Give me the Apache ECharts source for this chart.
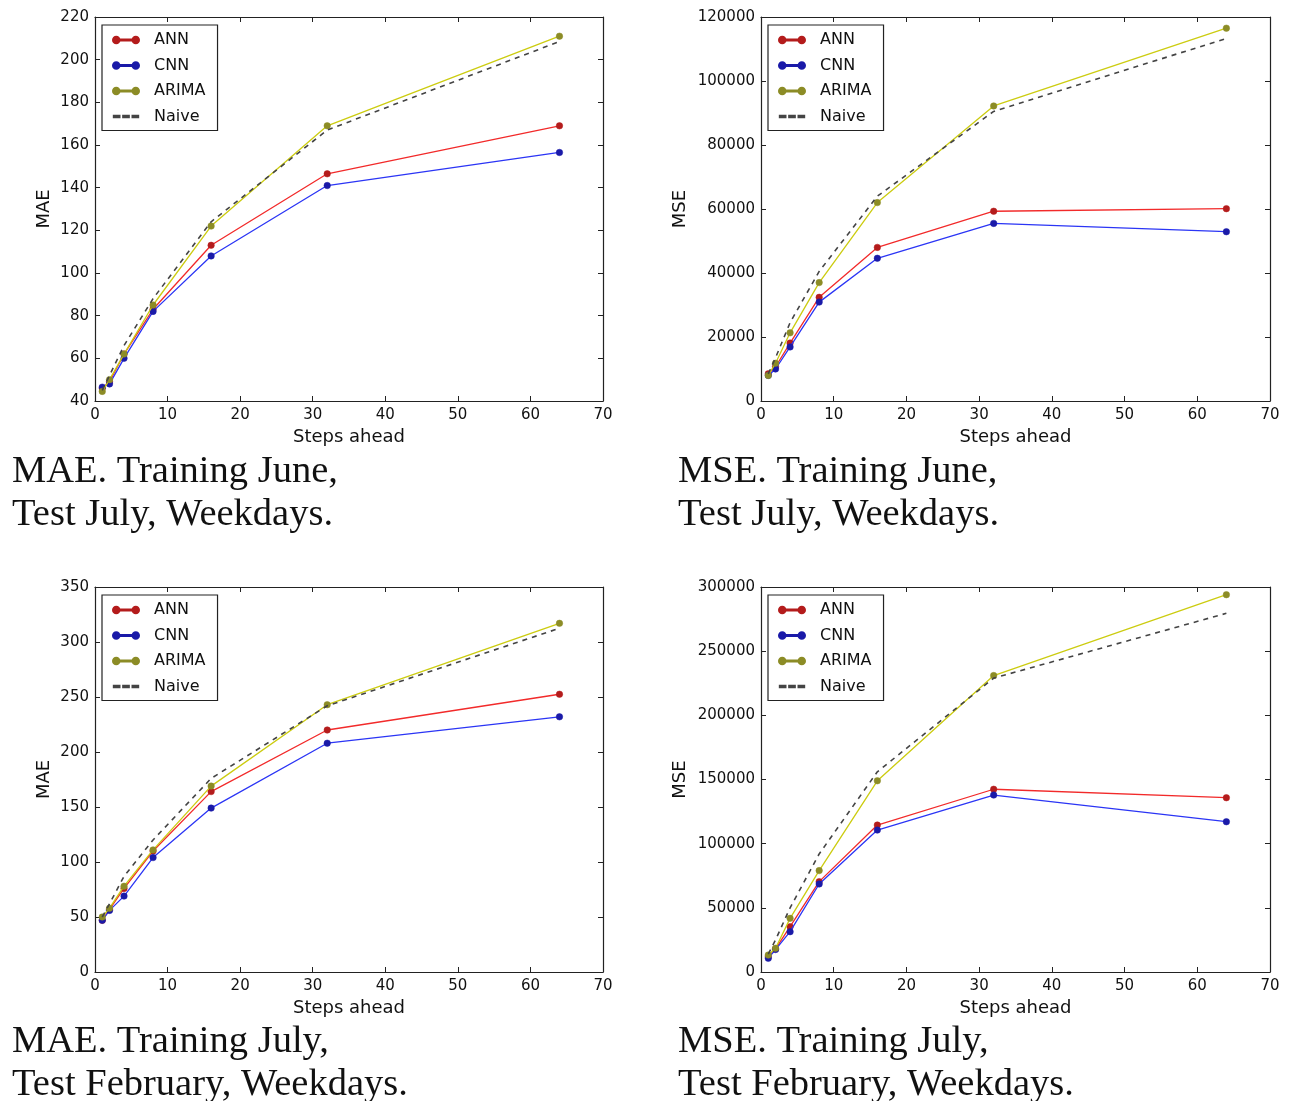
<!DOCTYPE html>
<html>
<head>
<meta charset="utf-8">
<script src="https://cdn.jsdelivr.net/npm/echarts@6/dist/echarts.min.js"></script>
<style>html,body{margin:0;padding:0;background:#fff;}#c{width:1297px;height:1101px;}</style>
</head>
<body>
<div id="c"></div>
<script>
// ---- data ----
var steps = [1, 2, 4, 8, 16, 32, 64];
var seriesNames = ['ANN', 'CNN', 'ARIMA', 'Naive'];

// MAE, Training June, Test July
var maeJun_ANN   = [46, 49, 62, 83, 113, 146.5, 169];
var maeJun_CNN   = [46.5, 48, 60, 82, 108, 141, 156.5];
var maeJun_ARIMA = [44.5, 50, 62, 85, 122, 169, 211];
var maeJun_Naive = [45, 52, 66, 88, 124, 167, 208.5];

// MSE, Training June, Test July
var mseJun_ANN   = [8500, 10700, 18100, 32400, 48000, 59300, 60100];
var mseJun_CNN   = [8000, 10000, 16900, 30900, 44600, 55500, 52900];
var mseJun_ARIMA = [8000, 11800, 21300, 37000, 62000, 92200, 116500];
var mseJun_Naive = [8500, 13500, 24500, 40500, 64000, 90500, 113300];

// MAE, Training July, Test February
var maeJul_ANN   = [47, 57, 76, 110, 164, 220, 252.5];
var maeJul_CNN   = [47, 56, 69, 104, 149, 208, 232];
var maeJul_ARIMA = [50, 58, 78, 111, 169, 243, 317];
var maeJul_Naive = [50, 62, 87, 120, 176, 242, 312.5];

// MSE, Training July, Test February
var mseJul_ANN   = [12000, 18000, 35300, 70400, 114500, 142400, 135800];
var mseJul_CNN   = [10700, 17500, 31400, 68600, 110600, 137900, 117100];
var mseJul_ARIMA = [13200, 18500, 41800, 79000, 149000, 231000, 294000];
var mseJul_Naive = [14000, 25000, 50000, 92000, 156000, 229000, 279500];

// axis settings
var xTicks = {min: 0, max: 70, interval: 10};
var yTicks = [
  {min: 40, max: 220, interval: 20, name: 'MAE'},
  {min: 0, max: 120000, interval: 20000, name: 'MSE'},
  {min: 0, max: 350, interval: 50, name: 'MAE'},
  {min: 0, max: 300000, interval: 50000, name: 'MSE'}
];
var titles = [
  ['MAE. Training June,', 'Test July, Weekdays.'],
  ['MSE. Training June,', 'Test July, Weekdays.'],
  ['MAE. Training July,', 'Test February, Weekdays.'],
  ['MSE. Training July,', 'Test February, Weekdays.']
];
var panels = [
  [maeJun_ANN, maeJun_CNN, maeJun_ARIMA, maeJun_Naive],
  [mseJun_ANN, mseJun_CNN, mseJun_ARIMA, mseJun_Naive],
  [maeJul_ANN, maeJul_CNN, maeJul_ARIMA, maeJul_Naive],
  [mseJul_ANN, mseJul_CNN, mseJul_ARIMA, mseJul_Naive]
];

// ---- layout / style ----
var grids = [
  {left: 95, top: 17, width: 508, height: 384},
  {left: 761, top: 17, width: 509, height: 384},
  {left: 95, top: 587, width: 508, height: 385},
  {left: 761, top: 587, width: 509, height: 385}
];
var yNameGap = [42, 72, 42, 72];
var lineColors = ['#f22a2a', '#2b35f5', '#cccc10', '#444444'];
var markColors = ['#b41c1c', '#1a1aa8', '#8c8c26', '#444444'];
var font = 'DejaVu Sans';

var markerIcon = 'path://M0,4A4,4 0 1,1 8,4A4,4 0 1,1 0,4Z M7,3.4L25,3.4L25,4.6L7,4.6Z M24,4A4,4 0 1,1 32,4A4,4 0 1,1 24,4Z';
var dashIcon = 'path://M1,3.2L8,3.2L8,4.8L1,4.8Z M12.5,3.2L19.5,3.2L19.5,4.8L12.5,4.8Z M24,3.2L31,3.2L31,4.8L24,4.8Z M0,0L0,0 M32,8L32,8';

var xAxes = [], yAxes = [], series = [], legends = [], graphics = [];
var axisLineStyle = {show: true, onZero: false, lineStyle: {color: '#222', width: 1.2}};
var tickStyle = {show: true, inside: true, length: 5, lineStyle: {color: '#222'}};
var plain = function (v) { return String(v); };

grids.forEach(function (g, i) {
  xAxes.push({
    type: 'value', gridIndex: i, min: xTicks.min, max: xTicks.max, interval: xTicks.interval,
    position: 'bottom', axisLine: axisLineStyle, axisTick: tickStyle, splitLine: {show: false},
    axisLabel: {color: '#111', fontFamily: font, fontSize: 15, margin: 7, formatter: plain},
    name: 'Steps ahead', nameLocation: 'middle', nameGap: 27,
    nameTextStyle: {color: '#111', fontFamily: font, fontSize: 18}
  });
  xAxes.push({
    type: 'value', gridIndex: i, min: xTicks.min, max: xTicks.max, interval: xTicks.interval,
    position: 'top', axisLine: axisLineStyle, axisTick: tickStyle, splitLine: {show: false},
    axisLabel: {show: false}
  });
  var yt = yTicks[i];
  yAxes.push({
    type: 'value', gridIndex: i, min: yt.min, max: yt.max, interval: yt.interval,
    position: 'left', axisLine: axisLineStyle, axisTick: tickStyle,
    splitLine: {show: false},
    axisLabel: {color: '#111', fontFamily: font, fontSize: 15, margin: 6, formatter: plain},
    name: yt.name, nameLocation: 'middle', nameGap: yNameGap[i], nameRotate: 90,
    nameTextStyle: {color: '#111', fontFamily: font, fontSize: 18}
  });
  yAxes.push({
    type: 'value', gridIndex: i, min: yt.min, max: yt.max, interval: yt.interval,
    position: 'right', axisLine: axisLineStyle, axisTick: tickStyle,
    splitLine: {show: false}, axisLabel: {show: false}
  });

  panels[i].forEach(function (vals, k) {
    var isNaive = k === 3;
    series.push({
      name: seriesNames[k], type: 'line', xAxisIndex: i * 2, yAxisIndex: i * 2,
      data: steps.map(function (s, j) { return [s, vals[j]]; }),
      symbol: isNaive ? 'none' : 'circle', symbolSize: 6.5, showSymbol: !isNaive,
      lineStyle: {color: lineColors[k], width: isNaive ? 1.6 : 1.3, type: isNaive ? [5, 5] : 'solid'},
      itemStyle: {color: markColors[k], borderColor: markColors[k], borderWidth: 0.5},
      z: isNaive ? 3 : 2 + k * 0.1,
      silent: true, animation: false
    });
  });

  legends.push({
    left: g.left + 7, top: g.top + 8,
    orient: 'vertical', itemGap: 9.5, itemWidth: 26, itemHeight: 7,
    padding: [7, 12, 6, 10], borderColor: '#222', borderWidth: 1.2, backgroundColor: '#fff',
    textStyle: {fontFamily: font, fontSize: 16, color: '#111', padding: [0, 0, 0, 10]},
    selectedMode: false,
    data: seriesNames.map(function (n, k) { return {name: n, icon: k === 3 ? dashIcon : markerIcon}; })
  });

  var tx = i % 2 === 0 ? 12 : 678;
  var ty = i < 2 ? 473 : 1043;
  titles[i].forEach(function (t, li) {
    graphics.push({
      type: 'text', left: tx, top: ty + li * 43 - 21,
      style: {text: t, fontFamily: 'Liberation Serif', fontSize: 38.5, fill: '#111'}
    });
  });
});

var chart = echarts.init(document.getElementById('c'), null, {renderer: 'canvas'});
chart.setOption({
  animation: false,
  backgroundColor: '#ffffff',
  grid: grids,
  xAxis: xAxes,
  yAxis: yAxes,
  legend: legends,
  series: series,
  graphic: graphics
});
</script>
</body>
</html>
